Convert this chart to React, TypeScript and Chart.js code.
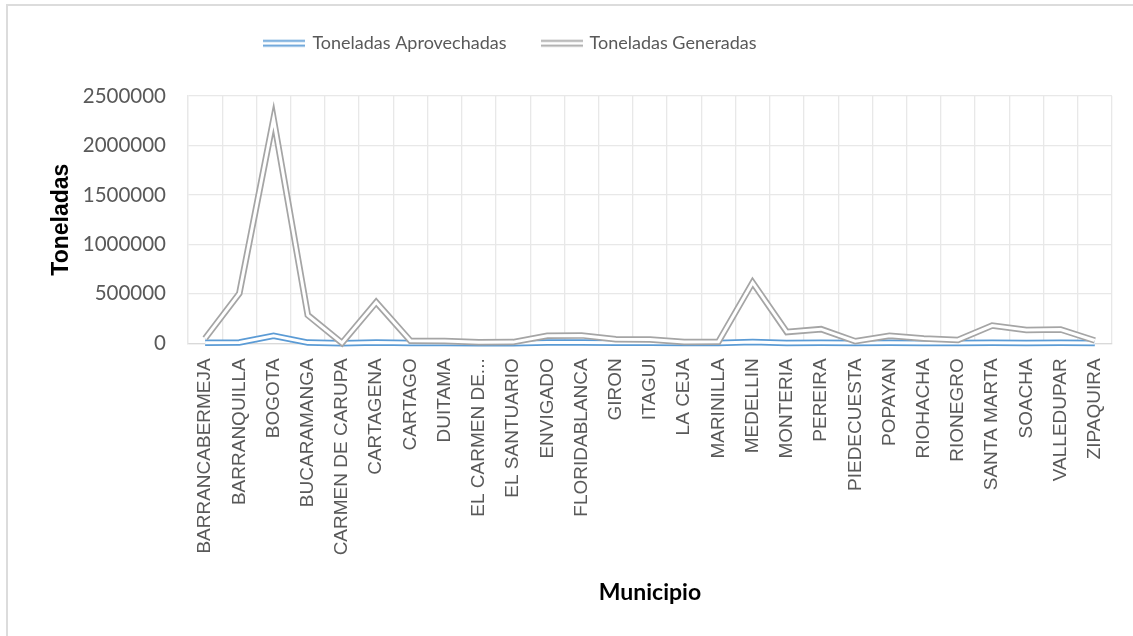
import React, { useEffect, useRef } from 'react';
import { Chart, registerables } from 'chart.js';

Chart.register(...registerables);

const municipios = [
  'BARRANCABERMEJA', 'BARRANQUILLA', 'BOGOTA', 'BUCARAMANGA', 'CARMEN DE CARUPA',
  'CARTAGENA', 'CARTAGO', 'DUITAMA', 'EL CARMEN DE...', 'EL SANTUARIO',
  'ENVIGADO', 'FLORIDABLANCA', 'GIRON', 'ITAGUI', 'LA CEJA',
  'MARINILLA', 'MEDELLIN', 'MONTERIA', 'PEREIRA', 'PIEDECUESTA',
  'POPAYAN', 'RIOHACHA', 'RIONEGRO', 'SANTA MARTA', 'SOACHA',
  'VALLEDUPAR', 'ZIPAQUIRA',
];

const toneladasAprovechadas = [
  6000, 8000, 75000, 7000, 500,
  7000, 3000, 3000, 1500, 1500,
  8000, 8000, 5000, 5000, 2000,
  2000, 12000, 4000, 6000, 2000,
  5000, 2000, 3000, 5000, 4000,
  5000, 3000,
];

const toneladasGeneradas = [
  50000, 505000, 2270000, 285000, 3000,
  415000, 25000, 22000, 10000, 12000,
  77000, 80000, 42000, 38000, 13000,
  15000, 615000, 114000, 143000, 21000,
  77000, 49000, 34000, 180000, 135000,
  140000, 28000,
];

const yTicks = [0, 500000, 1000000, 1500000, 2000000, 2500000];

const seriesNames = ['Toneladas Aprovechadas', 'Toneladas Generadas'];

const BLUE = '#5b9bd5';
const GRAY = '#a5a5a5';
const TEXT = '#595959';

function makeIcon(color: string) {
  const c = document.createElement('canvas');
  c.width = 42;
  c.height = 9;
  const ctx = c.getContext('2d')!;
  ctx.fillStyle = color;
  ctx.fillRect(0, 1.5, 42, 1.8);
  ctx.fillRect(0, 6.3, 42, 1.8);
  return c;
}

const legendSpacer = {
  id: 'legendSpacer',
  beforeInit(chart: any) {
    const legend = chart.legend;
    if (!legend) return;
    const fit = legend.fit;
    legend.fit = function () {
      fit.call(this);
      this.height = 98;
      if (this.lineWidths && this.lineWidths.length) this.lineWidths[0] += 130;
    };
  },
};

export default function App() {
  const ref = useRef<HTMLCanvasElement | null>(null);

  useEffect(() => {
    if (!ref.current) return;
    const blueIcon = makeIcon(BLUE);
    const grayIcon = makeIcon(GRAY);
    const base = {
      pointRadius: 0,
      pointHoverRadius: 0,
      tension: 0,
      clip: false as any,
      fill: false,
      borderJoinStyle: 'miter' as const,
      borderCapStyle: 'butt' as const,
    };
    const chart = new Chart(ref.current, {
      type: 'line',
      data: {
        labels: municipios,
        datasets: [
          { ...base, label: seriesNames[0], data: toneladasAprovechadas, borderColor: BLUE, borderWidth: 6.5, order: 4 },
          { ...base, label: '_a', data: toneladasAprovechadas, borderColor: '#ffffff', borderWidth: 3, order: 3 },
          { ...base, label: seriesNames[1], data: toneladasGeneradas, borderColor: GRAY, borderWidth: 6.5, order: 2 },
          { ...base, label: '_g', data: toneladasGeneradas, borderColor: '#ffffff', borderWidth: 3, order: 1 },
        ],
      },
      options: {
        animation: false,
        responsive: false,
        maintainAspectRatio: false,
        events: [],
        layout: { padding: { top: -2, left: 40, right: 21, bottom: 20 } },
        plugins: {
          tooltip: { enabled: false },
          legend: {
            position: 'top',
            labels: {
              usePointStyle: true,
              pointStyleWidth: 38,
              boxHeight: 9,
              padding: 36,
              color: TEXT,
              font: { family: 'Lato', size: 18 },
              generateLabels: () => [
                { text: seriesNames[0], pointStyle: blueIcon as any, fillStyle: BLUE, strokeStyle: BLUE, lineWidth: 0, hidden: false, datasetIndex: 0, fontColor: TEXT },
                { text: seriesNames[1], pointStyle: grayIcon as any, fillStyle: GRAY, strokeStyle: GRAY, lineWidth: 0, hidden: false, datasetIndex: 2, fontColor: TEXT },
              ],
            },
          },
        },
        scales: {
          x: {
            offset: true,
            grid: { offset: true, color: '#e8e8e8', lineWidth: 1.3, drawTicks: false },
            border: { color: '#d9d9d9', width: 1.3 },
            ticks: {
              autoSkip: false,
              minRotation: 90,
              maxRotation: 90,
              padding: 15,
              color: TEXT,
              font: { family: 'Liberation Sans', size: 19 },
            },
            title: {
              display: true,
              text: 'Municipio',
              color: '#000000',
              font: { family: 'Lato', size: 23, weight: 'bold' },
              padding: { top: 0, bottom: 10 },
            },
            afterFit: (s: any) => {
              s.height = 616 - 343.3;
            },
          },
          y: {
            min: 0,
            max: 2500000,
            afterBuildTicks: (s: any) => {
              s.ticks = yTicks.map((v) => ({ value: v }));
            },
            grid: { color: '#e8e8e8', lineWidth: 1.3, drawTicks: false },
            border: { color: '#e8e8e8', width: 1.3 },
            ticks: {
              padding: 22,
              color: TEXT,
              font: { family: 'Lato', size: 20.5 },
              callback: (v: any) => String(v),
            },
            title: {
              display: true,
              text: 'Toneladas',
              color: '#000000',
              font: { family: 'Liberation Sans', size: 23, weight: 'bold' },
              padding: { top: 8, bottom: 0 },
            },
            afterFit: (s: any) => {
              s.width = 148;
            },
          },
        },
      },
      plugins: [legendSpacer],
    });
    return () => chart.destroy();
  }, []);

  return (
    <div style={{ position: 'fixed', left: 0, top: 0, width: 1133, height: 636, background: '#ffffff', overflow: 'hidden' }}>
      <div style={{ position: 'absolute', left: 6, top: 4, width: 1200, height: 700, borderLeft: '2px solid #dcdcdc', borderTop: '2px solid #dcdcdc' }} />
      <canvas ref={ref} width={1133} height={636} style={{ position: 'absolute', left: 0, top: 0, width: 1133, height: 636, display: 'block' }} />
    </div>
  );
}
